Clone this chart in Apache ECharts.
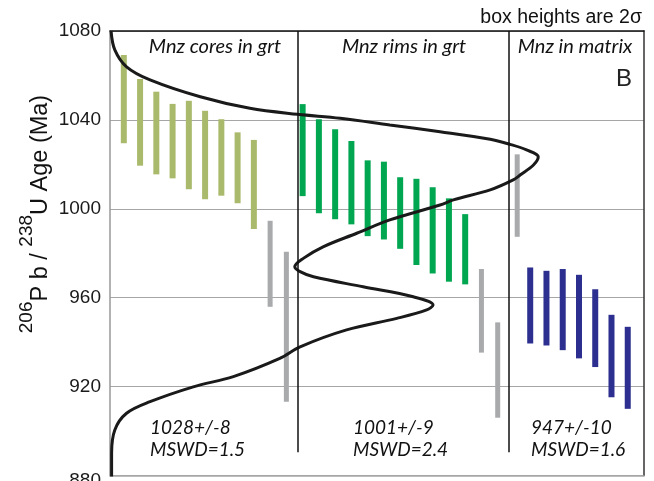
<!DOCTYPE html>
<html lang="en">
<head>
<meta charset="UTF-8">
<title>Monazite U-Pb ages</title>
<script src="https://cdn.jsdelivr.net/npm/echarts@6/dist/echarts.min.js"></script>
<style>
  html, body { margin: 0; padding: 0; background: #fff; }
  #box { width: 654px; height: 481px; }
</style>
</head>
<body>
<div id="box"></div>
<script>
// ages in Ma, each box spans the 2 sigma range
const yTicks = [880, 920, 960, 1000, 1040, 1080];

// monazite cores in garnet
const coresPos = [1, 2, 3, 4, 5, 6, 7, 8, 9];
const coresHi = [1069.2, 1058.4, 1052.7, 1047.2, 1048.6, 1044.1, 1040.3, 1034.4, 1031.0];
const coresLo = [1029.5, 1019.4, 1015.5, 1013.7, 1008.8, 1004.3, 1005.9, 1002.5, 990.9];

// monazite rims in garnet
const rimsPos = [12, 13, 14, 15, 16, 17, 18, 19, 20, 21, 22];
const rimsHi = [1047.1, 1040.3, 1035.8, 1030.5, 1021.8, 1021.2, 1014.2, 1013.5, 1009.7, 1004.7, 997.6];
const rimsLo = [1005.7, 998.0, 995.3, 993.0, 987.7, 986.2, 982.0, 974.7, 970.9, 967.2, 966.0];

// monazite in matrix
const matrixPos = [26, 27, 28, 29, 30, 31, 32];
const matrixHi = [973.6, 972.1, 972.9, 970.3, 963.8, 952.3, 946.9];
const matrixLo = [939.4, 938.5, 936.4, 932.7, 928.8, 915.2, 910.0];

// analyses left out of the means (grey)
const greyPos = [10, 11, 23, 24, 25.2];
const greyHi = [994.6, 980.7, 972.9, 948.9, 1024.5];
const greyLo = [955.9, 913.2, 935.3, 906.0, 987.4];

// probability density curve (relative), age in Ma
const pdfAge = [1080, 1071.5, 1063.9, 1058.0, 1050.4, 1045.2, 1042.5, 1040.7, 1037.7, 1034.7,
  1031.3, 1029.0, 1026.5, 1023.4, 1019.7, 1015.2, 1013.0, 1008.5, 1004.0, 1001.7,
  995.0, 989.0, 982.9, 977.7, 973.9, 971.7, 969.4, 964.9, 960.4, 956.7,
  954.5, 950.7, 945.5, 937.9, 932.7, 924.5, 919.9, 913.2, 908.0, 900.5, 890.0, 879.5];
const pdfDens = [0.002, 0.009, 0.031, 0.075, 0.169, 0.262, 0.351, 0.431, 0.524, 0.618,
  0.712, 0.749, 0.780, 0.802, 0.793, 0.768, 0.755, 0.712, 0.643, 0.618,
  0.524, 0.462, 0.399, 0.362, 0.346, 0.356, 0.381, 0.474, 0.568, 0.605,
  0.593, 0.537, 0.443, 0.356, 0.318, 0.231, 0.156, 0.075, 0.031, 0.009, 0.003, 0.003];

// group dividers
const dividerPos = [11.68, 24.71];
const dividerBottom = 890.5;

const groupLabels = ['Mnz cores in grt', 'Mnz rims in grt', 'Mnz in matrix'];
const meanLabels = ['1028+/-8', '1001+/-9', '947+/-10'];
const mswdLabels = ['MSWD=1.5', 'MSWD=2.4', 'MSWD=1.6'];

function zipBoxes(pos, lo, hi) {
  return pos.map((p, i) => [p, lo[i], hi[i]]);
}

function boxRender(w) {
  return function (params, api) {
    const x = api.value(0);
    const lo = api.coord([x, api.value(1)]);
    const hi = api.coord([x, api.value(2)]);
    return {
      type: 'rect',
      shape: { x: lo[0] - w / 2, y: hi[1], width: w, height: lo[1] - hi[1] },
      style: api.style()
    };
  };
}

function boxSeries(name, data, color, w) {
  return {
    name: name,
    type: 'custom',
    xAxisIndex: 0,
    yAxisIndex: 0,
    renderItem: boxRender(w),
    itemStyle: { color: color },
    data: data,
    z: 2
  };
}

const textFont = 'Liberation Sans, Arial, sans-serif';
const italicFont = 'Lato, Open Sans, sans-serif';

var chart = echarts.init(document.getElementById('box'));

var series = [
  boxSeries('cores', zipBoxes(coresPos, coresLo, coresHi), '#a9ba6c', 6),
  boxSeries('rims', zipBoxes(rimsPos, rimsLo, rimsHi), '#00a650', 6),
  boxSeries('matrix', zipBoxes(matrixPos, matrixLo, matrixHi), '#2c2f8f', 6),
  boxSeries('grey', zipBoxes(greyPos, greyLo, greyHi), '#a8aaac', 5),
  {
    name: 'pdf',
    type: 'line',
    xAxisIndex: 1,
    yAxisIndex: 0,
    data: pdfDens.map((d, i) => [d, pdfAge[i]]),
    smooth: 0.35,
    symbol: 'none',
    lineStyle: { color: '#1a1a1a', width: 3 },
    z: 4
  }
];

// dividers hang off the first box series
series[0].markLine = {
  silent: true,
  symbol: 'none',
  label: { show: false },
  lineStyle: { color: '#111', width: 1.5, type: 'solid' },
  data: dividerPos.map(p => [{ coord: [p, yTicks[yTicks.length - 1]] }, { coord: [p, dividerBottom] }])
};

var groupX = [215, 404, 575];
var statX = [150, 353, 531];
var graphics = [];
groupLabels.forEach((t, i) => {
  graphics.push({
    type: 'text', x: groupX[i], y: 47,
    style: { text: t, font: 'italic 20px ' + italicFont, fill: '#111', align: 'center', verticalAlign: 'middle' }
  });
  graphics.push({
    type: 'text', x: statX[i], y: 428,
    style: { text: meanLabels[i], font: 'italic 19px ' + italicFont, fill: '#111', align: 'left', verticalAlign: 'middle' }
  });
  graphics.push({
    type: 'text', x: statX[i], y: 450,
    style: { text: mswdLabels[i], font: 'italic 19px ' + italicFont, fill: '#111', align: 'left', verticalAlign: 'middle' }
  });
});
graphics.push({
  type: 'text', x: 642, y: 18,
  style: { text: 'box heights are 2σ', font: '19.5px ' + textFont, fill: '#111', align: 'right', verticalAlign: 'middle' }
});
graphics.push({
  type: 'text', x: 632, y: 79,
  style: { text: 'B', font: '24px ' + textFont, fill: '#222', align: 'right', verticalAlign: 'middle' }
});
graphics.push({
  type: 'text', x: 35, y: 214, rotation: Math.PI / 2,
  style: {
    text: '{s|206}{m|P b / }{s|238}{m|U Age (Ma)}',
    align: 'center', verticalAlign: 'middle', fill: '#111',
    rich: {
      s: { fontSize: 19, fontFamily: textFont, verticalAlign: 'top', fill: '#111' },
      m: { fontSize: 23.5, fontFamily: textFont, lineHeight: 36, verticalAlign: 'bottom', fill: '#111' }
    }
  }
});

var option = {
  animation: false,
  grid: { left: 110, top: 31, width: 534, height: 444.5, outerBoundsMode: 'none', containLabel: false },
  xAxis: [
    {
      type: 'value', min: 0.15, max: 33, position: 'bottom',
      axisLine: { show: true, lineStyle: { color: '#a6a6a6', width: 1.5 } },
      axisTick: { show: false }, axisLabel: { show: false }, splitLine: { show: false }
    },
    {
      type: 'value', min: 0, max: 1, position: 'top',
      axisLine: { show: true, lineStyle: { color: '#111', width: 1.5 } },
      axisTick: { show: false }, axisLabel: { show: false }, splitLine: { show: false }
    }
  ],
  yAxis: [
    {
      type: 'value', min: yTicks[0], max: yTicks[yTicks.length - 1], interval: 40,
      axisLine: { show: true, lineStyle: { color: '#999', width: 1.5 } },
      axisTick: { show: false },
      axisLabel: {
        fontSize: 19, fontFamily: textFont, color: '#1a1a1a', margin: 9,
        formatter: v => (v === yTicks[0] ? '{low|' + v + '}' : String(v)),
        rich: { low: { fontSize: 19, fontFamily: textFont, color: '#1a1a1a', padding: [10, 0, 0, 0] } }
      },
      splitLine: { show: true, lineStyle: { color: '#a6a6a6', width: 1.2 } }
    },
    {
      type: 'value', min: yTicks[0], max: yTicks[yTicks.length - 1], position: 'right',
      axisLine: { show: true, lineStyle: { color: '#333', width: 1.5 } },
      axisTick: { show: false }, axisLabel: { show: false }, splitLine: { show: false }
    }
  ],
  graphic: graphics,
  series: series
};

chart.setOption(option);
</script>
</body>
</html>
